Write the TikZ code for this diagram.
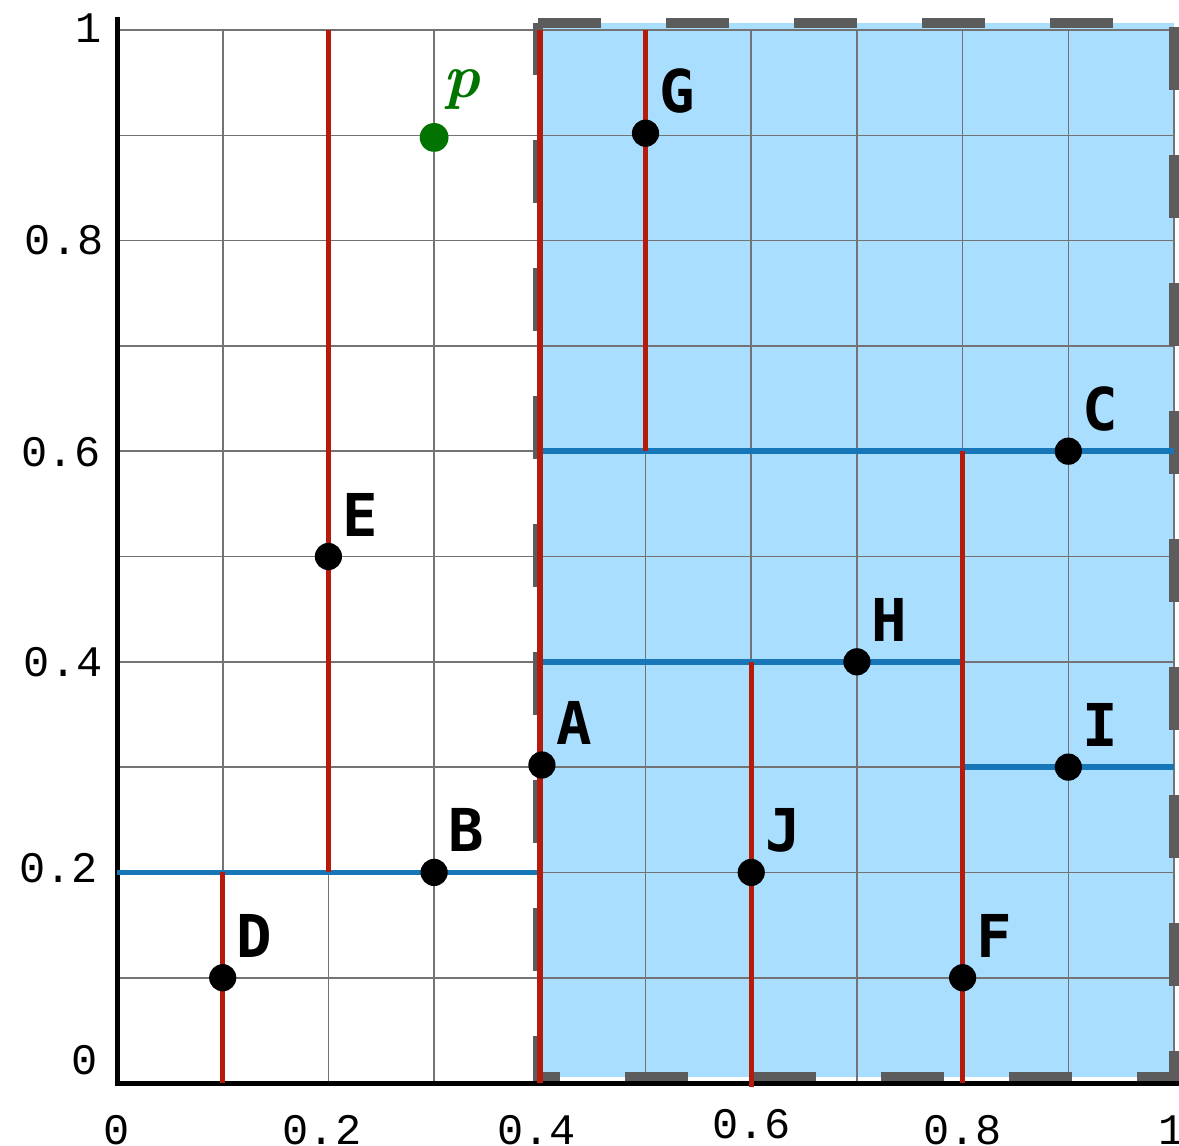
\documentclass[tikz,border=0pt]{standalone}
\usepackage{fontspec}
\newfontfamily\tickfont{Liberation Mono}
\newfontfamily\labfont{DejaVu Sans Mono}
\definecolor{regionblue}{RGB}{170,222,255}
\definecolor{edgegray}{RGB}{92,92,92}
\definecolor{gridgray}{RGB}{115,115,115}
\definecolor{splitred}{RGB}{182,26,10}
\definecolor{splitblue}{RGB}{22,118,184}
\definecolor{querygreen}{RGB}{0,115,0}
\tikzset{
  gridline/.style={draw=gridgray, line width=0.04cm},
  regionedge/.style={draw=edgegray, line width=0.25cm, dash pattern=on 1.575cm off 1.625cm, line cap=butt},
  axisline/.style={draw=black, line width=0.125cm, line join=miter},
  vsplit/.style={draw=splitred, line width=0.135cm},
  hsplit/.style={draw=splitblue, line width=0.14cm},
  pt/.style={circle, fill=black, inner sep=0pt, minimum size=0.68cm},
  qpt/.style={circle, fill=querygreen, inner sep=0pt, minimum size=0.72cm},
  ptlabel/.style={inner sep=0pt, font=\fontsize{42}{50}\selectfont\labfont\bfseries, xshift=0.8cm, yshift=1.05cm},
  ticklab/.style={inner sep=0pt, font=\fontsize{31}{37}\selectfont\tickfont}
}
\begin{document}
\begin{tikzpicture}[x=26.425cm, y=26.325cm]
\useasboundingbox (-0.1107,-0.0589) rectangle (1.0047,1.0285);
% region fill
\fill[regionblue] (0.3983,0.0057) rectangle (1.0,1.0066);
% grid
\foreach \i in {0,...,10} {
  \draw[gridline] (\i/10,0) -- (\i/10,1);
  \draw[gridline] (0,\i/10) -- (1,\i/10);
}
% dashed region boundary
\draw[regionedge] (0.3983,1.0066) -- (1.0,1.0066) -- (1.0,0.0057) -- (0.3983,0.0057) -- cycle;
% axes
\draw[axisline] (0,1.0123) -- (0,0) -- (1.0047,0);
% horizontal splits
\draw[hsplit] (0,0.2) -- (0.4,0.2);
\draw[hsplit] (0.4,0.6) -- (1,0.6);
\draw[hsplit] (0.4,0.4) -- (0.8,0.4);
\draw[hsplit] (0.8,0.3) -- (1,0.3);
% vertical splits
\draw[vsplit] (0.1,0) -- (0.1,0.2);
\draw[vsplit] (0.2,0.2) -- (0.2,1);
\draw[vsplit] (0.4,0) -- (0.4,1);
\draw[vsplit] (0.5,0.6) -- (0.5,1);
\draw[vsplit] (0.6,-0.004) -- (0.6,0.4);
\draw[vsplit] (0.8,0) -- (0.8,0.6);
% points
\node[pt] (A) at (0.402,0.302) {};
\node[pt] (B) at (0.3,0.2) {};
\node[pt] (C) at (0.9,0.6) {};
\node[pt] (D) at (0.1,0.1) {};
\node[pt] (E) at (0.2,0.5) {};
\node[pt] (F) at (0.8,0.1) {};
\node[pt] (G) at (0.5,0.902) {};
\node[pt] (H) at (0.7,0.4) {};
\node[pt] (I) at (0.9,0.3) {};
\node[pt] (J) at (0.6,0.2) {};
\node[qpt] (P) at (0.3,0.898) {};
% labels
\node[ptlabel] (lA) at (A) {A};
\node[ptlabel] (lB) at (B) {B};
\node[ptlabel] (lC) at (C) {C};
\node[ptlabel] (lD) at (D) {D};
\node[ptlabel] (lE) at (E) {E};
\node[ptlabel] (lF) at (F) {F};
\node[ptlabel] (lG) at (G) {G};
\node[ptlabel] (lH) at (H) {H};
\node[ptlabel] (lI) at (I) {I};
\node[ptlabel] (lJ) at (J) {J};
\node[inner sep=0pt, text=querygreen, font=\fontsize{44}{50}\selectfont\bfseries\itshape, xshift=0.7cm, yshift=1.2cm] (lP) at (P) {p};
% x tick labels
\node[ticklab] (tx0) at (0,-0.0446) {0};
\node[ticklab] (tx2) at (0.194,-0.0446) {0.2};
\node[ticklab] (tx4) at (0.397,-0.0446) {0.4};
\node[ticklab] (tx6) at (0.600,-0.0394) {0.6};
\node[ticklab] (tx8) at (0.800,-0.0446) {0.8};
\node[ticklab] (tx10) at (0.998,-0.0446) {1};
% y tick labels
\node[ticklab] (ty0) at (-0.031,0.0218) {0};
\node[ticklab] (ty2) at (-0.055,0.204) {0.2};
\node[ticklab] (ty4) at (-0.051,0.400) {0.4};
\node[ticklab] (ty6) at (-0.053,0.599) {0.6};
\node[ticklab] (ty8) at (-0.050,0.8006) {0.8};
\node[ticklab] (ty10) at (-0.027,1.002) {1};
\end{tikzpicture}
\end{document}
